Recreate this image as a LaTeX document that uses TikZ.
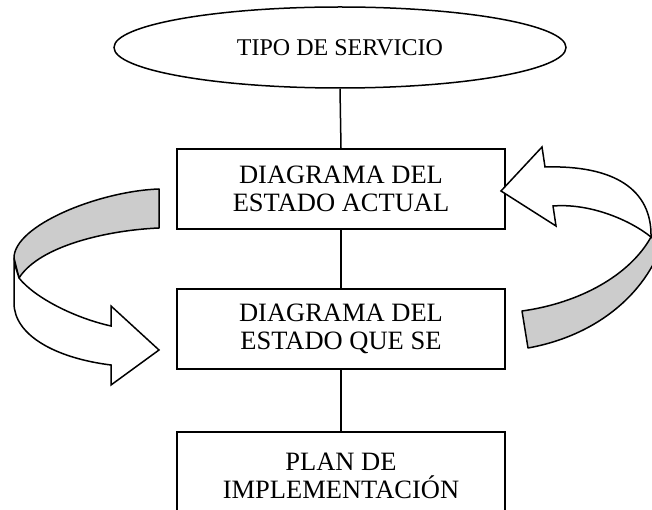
\documentclass[tikz,border=0pt]{standalone}
\usepackage{fontspec}
\setmainfont{Liberation Serif}
\usetikzlibrary{shapes.geometric}
\begin{document}
\begin{tikzpicture}[x=1pt,y=-1pt,
  box/.style={draw,line width=1.5pt,minimum width=328pt,minimum height=80pt,inner sep=0pt,align=center,font=\fontsize{26.5}{28.5}\selectfont},
  oval/.style={draw,ellipse,line width=1.5pt,minimum width=452pt,minimum height=81pt,inner sep=0pt,font=\fontsize{24}{28}\selectfont},
  link/.style={line width=1.5pt},
  band/.style={draw,line width=1.5pt,fill=black!20,line join=round},
  front/.style={draw,line width=1.5pt,fill=white,line join=miter}]
\useasboundingbox (0,0) rectangle (652,510);
\clip (0,0) rectangle (652,510);
\node[oval] (tipo) at (340,47.5) {TIPO DE SERVICIO};
\node[box] (actual) at (341,189) {DIAGRAMA DEL\\ESTADO ACTUAL};
\node[box] (futuro) at (341,329) {DIAGRAMA DEL\\ESTADO QUE SE};
\node[box,minimum height=88pt] (plan) at (341,476) {PLAN DE\\IMPLEMENTACIÓN};
\draw[link] (tipo.south) -- (actual.north);
\draw[link] (actual.south) -- (futuro.north);
\draw[link] (futuro.south) -- (plan.north);
% left curved arrow
\path[band] (159,189) .. controls (100,191) and (14,225) .. (14,258) -- (19,278) .. controls (40,245) and (110,230) .. (159,228) -- cycle;
\path[front] (19,278) -- (14,262) -- (14,303) .. controls (14,335) and (55,358) .. (111,365) -- (111,385) -- (159,350) -- (111,306) -- (111,326) .. controls (75,318) and (35,298) .. (19,278) -- cycle;
% right curved arrow
\path[band] (651,237) .. controls (630,275) and (580,303) .. (522,311) -- (528,348) .. controls (600,335) and (650,290) .. (665,235) -- cycle;
\path[front] (651,237) .. controls (652,190) and (615,165) .. (545,167) -- (542,147) -- (501,191) -- (556,226) -- (553,206) .. controls (590,203) and (630,220) .. (651,237) -- cycle;
\end{tikzpicture}
\end{document}
